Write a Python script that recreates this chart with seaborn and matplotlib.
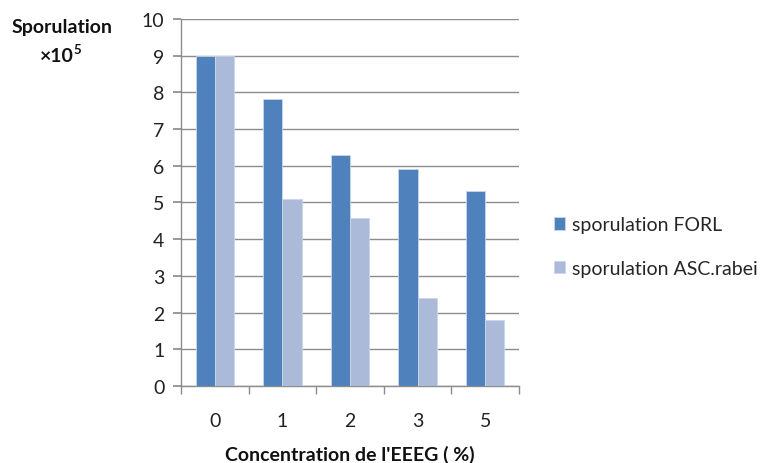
import matplotlib
matplotlib.use("Agg")
import matplotlib.pyplot as plt
import seaborn as sns
import pandas as pd

concentrations = ["0", "1", "2", "3", "5"]
forl = [9.0, 7.83, 6.3, 5.92, 5.3]
asc = [9.0, 5.1, 4.58, 2.4, 1.8]
series_names = ["sporulation FORL", "sporulation ASC.rabei"]
colors = ["#4F81BD", "#AABAD8"]

df = pd.DataFrame({
    "conc": concentrations * 2,
    "val": forl + asc,
    "serie": [series_names[0]] * 5 + [series_names[1]] * 5,
})

sns.set_theme(style="white")
plt.rcParams["font.family"] = ["Lato", "DejaVu Sans"]
FS = 14

fig = plt.figure(figsize=(7.65, 4.64), dpi=100)
ax = fig.add_axes([0.2366, 0.166, 0.4418, 0.791])

sns.barplot(data=df, x="conc", y="val", hue="serie", order=concentrations,
            hue_order=series_names, palette=colors, width=0.57,
            saturation=1, ax=ax, edgecolor="#C9D6EA", linewidth=0.6, zorder=3)

ax.set_ylim(0, 10)
ax.set_xlim(-0.5, 4.5)
ax.set_yticks(range(0, 11))
ax.yaxis.grid(True, color="#8C8C8C", linewidth=1.0, zorder=0)
ax.set_axisbelow(True)
for s in ["top", "right"]:
    ax.spines[s].set_visible(False)
for s in ["left", "bottom"]:
    ax.spines[s].set_color("#8C8C8C")
    ax.spines[s].set_linewidth(1.0)

ax.tick_params(axis="y", which="both", left=True, length=6, color="#8C8C8C",
               labelsize=FS, pad=6, labelcolor="#222222")
ax.set_xticks(range(5))
ax.set_xticklabels(concentrations)
ax.tick_params(axis="x", which="major", bottom=False, labelsize=FS, pad=13,
               labelcolor="#222222")
ax.set_xticks([i - 0.5 for i in range(6)], minor=True)
ax.tick_params(axis="x", which="minor", bottom=True, length=6, color="#8C8C8C")

ax.set_xlabel("Concentration de l'EEEG ( %)", fontsize=FS, fontweight="bold",
              labelpad=11, color="#111111")
ax.set_ylabel("")

fig.text(0.081, 0.94, "Sporulation", fontsize=FS, fontweight="bold",
         ha="center", va="center", color="#111111")
fig.text(0.097, 0.878, "×10", fontsize=FS, fontweight="bold",
         ha="right", va="center", color="#111111")
fig.text(0.0965, 0.893, "5", fontsize=9.5, fontweight="bold",
         ha="left", va="center", color="#111111")

handles, labels = ax.get_legend_handles_labels()
ax.legend(handles, labels, loc="center left", bbox_to_anchor=(1.08, 0.38),
          frameon=False, fontsize=FS, handlelength=0.6, handleheight=0.6,
          handletextpad=0.35, labelspacing=1.35, borderaxespad=0)

fig.savefig("out.png", dpi=100)
